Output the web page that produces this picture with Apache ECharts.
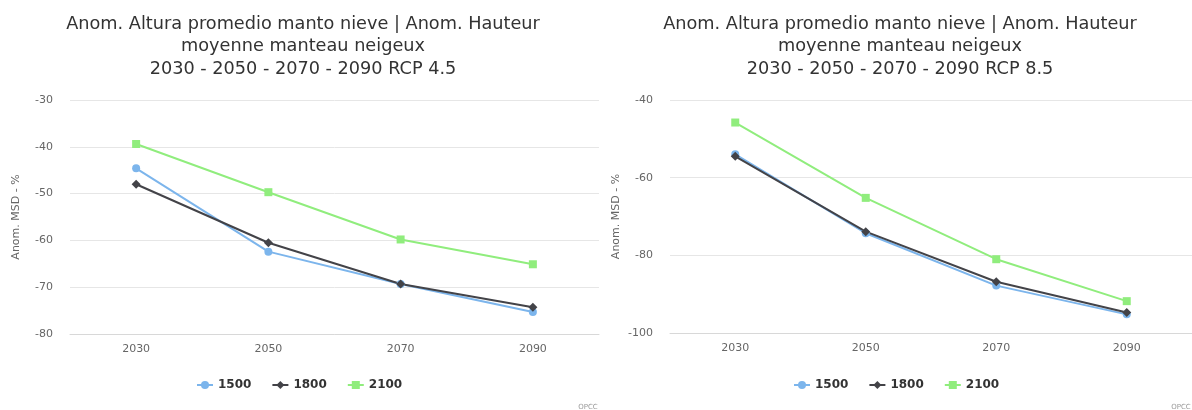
<!DOCTYPE html>
<html><head><meta charset="utf-8">
<script src="https://cdn.jsdelivr.net/npm/echarts@6/dist/echarts.min.js"></script>
<style>html,body{margin:0;padding:0;background:#fff}#c{width:1192px;height:410px}</style>
</head><body><div id="c"></div>
<script>
const categories = ['2030', '2050', '2070', '2090'];
const seriesNames = ['1500', '1800', '2100'];
const rcp45_1500 = [-44.6, -62.4, -69.3, -75.3];
const rcp45_1800 = [-48.0, -60.5, -69.3, -74.3];
const rcp45_2100 = [-39.4, -49.7, -59.8, -65.1];
const rcp85_1500 = [-54.0, -74.3, -87.8, -95.2];
const rcp85_1800 = [-54.5, -73.9, -86.8, -94.7];
const rcp85_2100 = [-45.8, -65.2, -81.0, -91.8];
const titleLeft = 'Anom. Altura promedio manto nieve | Anom. Hauteur\nmoyenne manteau neigeux\n2030 - 2050 - 2070 - 2090 RCP 4.5';
const titleRight = 'Anom. Altura promedio manto nieve | Anom. Hauteur\nmoyenne manteau neigeux\n2030 - 2050 - 2070 - 2090 RCP 8.5';
const yName = 'Anom. MSD - %';
const credit = 'OPCC';

const colors = ['#7cb5ec', '#434348', '#90ed7d'];
const symbols = ['circle', 'diamond', 'rect'];
const symSizes = [8, 9, 8];
const FONT = 'DejaVu Sans';

const chart = echarts.init(document.getElementById('c'));
function mkSeries(data, idx, gi) {
  return {
    name: seriesNames[idx], type: 'line', xAxisIndex: gi, yAxisIndex: gi,
    data: data, symbol: symbols[idx], symbolSize: symSizes[idx], showSymbol: true,
    lineStyle: { width: 2, color: colors[idx] },
    itemStyle: { color: colors[idx] },
    animation: false
  };
}
const xAxisBase = {
  type: 'category', data: categories, boundaryGap: true,
  axisLine: { lineStyle: { color: '#d8d8d8' } }, axisTick: { show: false },
  axisLabel: { color: '#666', fontSize: 11, fontFamily: FONT, margin: 10 }
};
const yAxisBase = {
  type: 'value', name: yName, nameLocation: 'middle', nameRotate: 90,
  nameTextStyle: { color: '#666', fontSize: 11, fontFamily: FONT },
  axisLine: { show: false }, axisTick: { show: false },
  splitLine: { lineStyle: { color: '#e6e6e6' } },
  axisLabel: { color: '#666', fontSize: 11, fontFamily: FONT, margin: 17 }
};
const titleStyle = { color: '#333', fontSize: 17.7, fontFamily: FONT, fontWeight: 'normal', lineHeight: 22.5 };
const legendBase = { data: seriesNames, top: 374, itemGap: 20, itemWidth: 16, itemHeight: 10,
  textStyle: { color: '#333', fontSize: 12, fontWeight: 'bold', fontFamily: FONT } };
chart.setOption({
  animation: false,
  color: colors,
  title: [
    { text: titleLeft, left: 298, top: 8, textAlign: 'center', textStyle: titleStyle },
    { text: titleRight, left: 895, top: 8, textAlign: 'center', textStyle: titleStyle },
    { text: credit, left: 583, top: 399, textAlign: 'center', textStyle: { color: '#999', fontSize: 7, fontFamily: FONT, fontWeight: 'normal' } },
    { text: credit, left: 1176, top: 399, textAlign: 'center', textStyle: { color: '#999', fontSize: 7, fontFamily: FONT, fontWeight: 'normal' } }
  ],
  legend: [
    Object.assign({}, legendBase, { left: 191 }),
    Object.assign({}, legendBase, { left: 788 })
  ],
  grid: [
    { left: 70, right: 593, top: 100, bottom: 76 },
    { left: 670, right: 0, top: 100, bottom: 77 }
  ],
  xAxis: [
    Object.assign({}, xAxisBase, { gridIndex: 0 }),
    Object.assign({}, xAxisBase, { gridIndex: 1 })
  ],
  yAxis: [
    Object.assign({}, yAxisBase, { gridIndex: 0, min: -80, max: -30, interval: 10, nameGap: 48 }),
    Object.assign({}, yAxisBase, { gridIndex: 1, min: -100, max: -40, interval: 20, nameGap: 48 })
  ],
  series: [
    mkSeries(rcp45_1500, 0, 0), mkSeries(rcp45_1800, 1, 0), mkSeries(rcp45_2100, 2, 0),
    mkSeries(rcp85_1500, 0, 1), mkSeries(rcp85_1800, 1, 1), mkSeries(rcp85_2100, 2, 1)
  ]
});
</script></body></html>
